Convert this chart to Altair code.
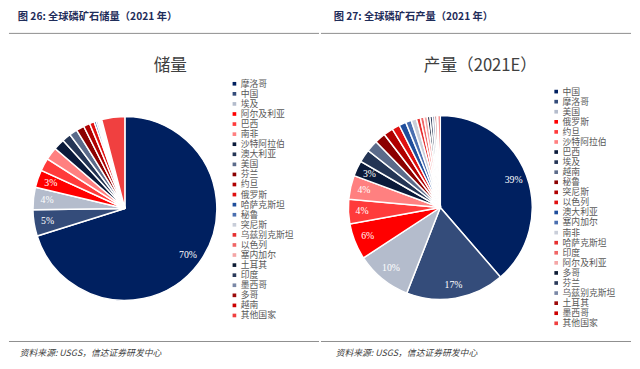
import altair as alt
import pandas as pd

# ---- data ----
reserve_countries = ["摩洛哥", "中国", "埃及", "阿尔及利亚", "巴西", "南非", "沙特阿拉伯", "澳大利亚",
                     "美国", "芬兰", "约旦", "俄罗斯", "哈萨克斯坦", "秘鲁", "突尼斯", "乌兹别克斯坦",
                     "以色列", "塞内加尔", "土耳其", "印度", "墨西哥", "多哥", "越南", "其他国家"]
reserve_values = [50000, 3300, 2800, 2200, 1600, 1600, 1400, 1100, 1000, 1000, 800, 600,
                  260, 210, 100, 100, 60, 50, 50, 46, 30, 30, 30, 2900]
reserve_labeled = ["摩洛哥", "中国", "埃及", "阿尔及利亚"]

prod_countries = ["中国", "摩洛哥", "美国", "俄罗斯", "约旦", "沙特阿拉伯", "巴西", "埃及", "越南",
                  "秘鲁", "突尼斯", "以色列", "澳大利亚", "塞内加尔", "南非", "哈萨克斯坦", "印度",
                  "阿尔及利亚", "多哥", "芬兰", "乌兹别克斯坦", "土耳其", "墨西哥", "其他国家"]
prod_values = [85000, 38000, 21600, 14000, 9500, 9200, 6000, 5000, 4500, 4200, 3700, 3000,
               2700, 2200, 2100, 1500, 1400, 1300, 1000, 990, 900, 800, 400, 900]
prod_labeled = ["中国", "摩洛哥", "美国", "俄罗斯", "约旦", "沙特阿拉伯", "巴西"]

palette = ["#002060", "#344C7A", "#B4BCCC", "#FF0000", "#FF3B3B", "#FF8080",
           "#0A1A3A", "#243555", "#5B6B8A", "#8B0000", "#B00000", "#E01010",
           "#1F4E9C", "#4A6FB0", "#C9CED9", "#E63030", "#F06666", "#F4A6A6",
           "#0D1B33", "#2A3A5A", "#7A88A6", "#9C0A0A", "#CC0000", "#F04040"]

headers = ["图 26: 全球磷矿石储量（2021 年）", "图 27: 全球磷矿石产量（2021 年）"]
titles = ["储量", "产量（2021E）"]
source = "资料来源: USGS，信达证券研发中心"

CJK = "Noto Sans CJK SC"
W, H = 312, 353


def make_df(countries, values, labeled):
    total = sum(values)
    rows = []
    for i, (c, v) in enumerate(zip(countries, values)):
        pct = v / total
        rows.append({"country": c, "value": v, "idx": i,
                     "label": f"{round(pct * 100)}%" if c in labeled else ""})
    return pd.DataFrame(rows)


def panel(countries, values, labeled, header, title, cx, cy, hx, tx, fx, lx, ly, rule_x0, rule_x1):
    df = make_df(countries, values, labeled)
    base = alt.Chart(df)
    pie = base.mark_arc(outerRadius=94, stroke="white", strokeWidth=1.5).encode(
        theta=alt.Theta("value:Q", stack=True),
        order=alt.Order("idx:Q"),
        color=alt.Color("country:N",
                        scale=alt.Scale(domain=countries, range=palette),
                        legend=alt.Legend(title=None, orient="none", legendX=lx, legendY=ly,
                                          symbolType="square", symbolSize=14, symbolStrokeWidth=0,
                                          labelFont=CJK, labelFontSize=9, labelColor="#595959",
                                          rowPadding=0.3, labelOffset=2, padding=0)),
        x=alt.value(cx), y=alt.value(cy),
    )
    labels = base.mark_text(radius=80, font="Liberation Serif", fontSize=10, color="white").encode(
        theta=alt.Theta("value:Q", stack=True),
        order=alt.Order("idx:Q"),
        text="label:N",
        x=alt.value(cx), y=alt.value(cy),
    )
    hdr = alt.Chart(pd.DataFrame({"t": [header]})).mark_text(
        font=CJK, fontSize=10.5, fontWeight="bold", color="#1F2D5A", align="left", baseline="middle"
    ).encode(text="t:N", x=alt.value(hx), y=alt.value(5))
    ttl = alt.Chart(pd.DataFrame({"t": [title]})).mark_text(
        font=CJK, fontSize=17, color="#404040", align="center", baseline="middle"
    ).encode(text="t:N", x=alt.value(tx), y=alt.value(55))
    ftr = alt.Chart(pd.DataFrame({"t": [source]})).mark_text(
        font=CJK, fontSize=9, fontStyle="italic", color="#404040", align="left", baseline="middle"
    ).encode(text="t:N", x=alt.value(fx), y=alt.value(349))
    rule_top = alt.Chart(pd.DataFrame({"a": [0]})).mark_rule(color="#8C8C8C", strokeWidth=1).encode(
        x=alt.value(rule_x0), x2=alt.value(rule_x1), y=alt.value(22))
    rule_bot = alt.Chart(pd.DataFrame({"a": [0]})).mark_rule(color="#8C8C8C", strokeWidth=1).encode(
        x=alt.value(rule_x0), x2=alt.value(rule_x1), y=alt.value(337))
    return alt.layer(pie, labels, hdr, ttl, ftr, rule_top, rule_bot).properties(width=W, height=H)


left = panel(reserve_countries, reserve_values, reserve_labeled, headers[0], titles[0],
             113.5, 201, 4, 160, 6, 221, 69, -5, W)
right = panel(prod_countries, prod_values, prod_labeled, headers[1], titles[1],
              122, 200, 13, 163, 15, 236, 77, 0, 317)

chart = alt.hconcat(left, right, spacing=0).resolve_scale(color="independent").resolve_legend(
    color="independent").properties(padding=0).configure_view(stroke=None)

chart.save("out.html", embed_options={"renderer": "svg", "actions": False})
